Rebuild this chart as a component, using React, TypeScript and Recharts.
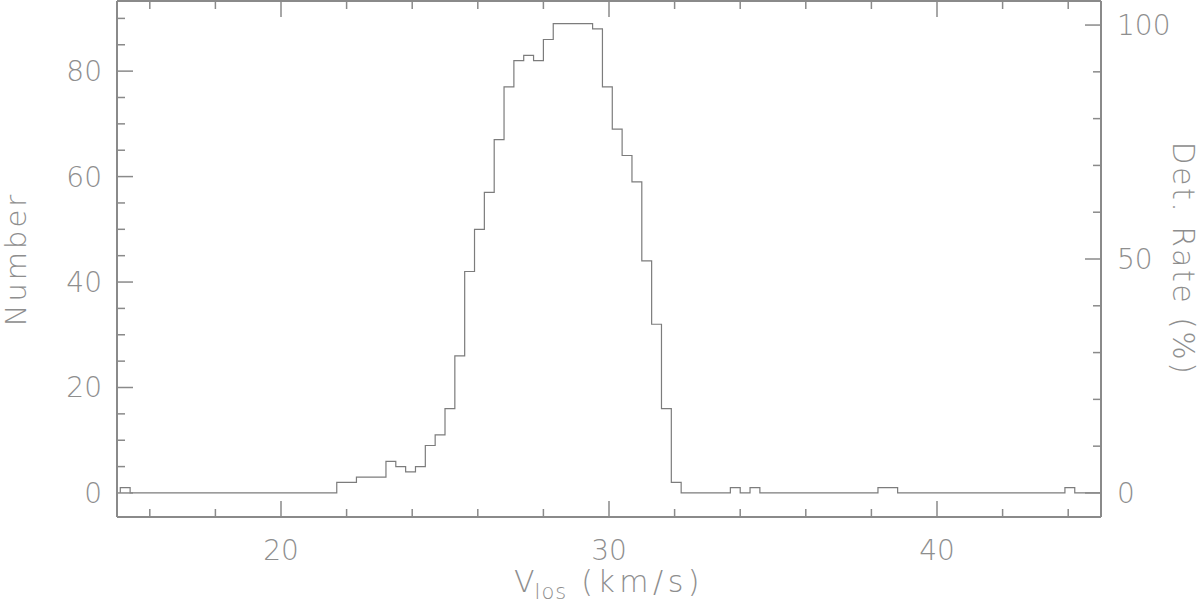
import { LineChart, Line, XAxis, YAxis } from "recharts";

// histogram of line-of-sight velocities, 0.3 km/s bins starting at 15.1
const binStart = 15.1;
const binWidth = 0.3;
const counts = [
  1, 0, 0, 0, 0, 0, 0, 0, 0, 0,
  0, 0, 0, 0, 0, 0, 0, 0, 0, 0,
  0, 0, 2, 2, 3, 3, 3, 6, 5, 4,
  5, 9, 11, 16, 26, 42, 50, 57, 67, 77,
  82, 83, 82, 86, 89, 89, 89, 89, 88, 77,
  69, 64, 59, 44, 32, 16, 2, 0, 0, 0,
  0, 0, 1, 0, 1, 0, 0, 0, 0, 0,
  0, 0, 0, 0, 0, 0, 0, 1, 1, 0,
  0, 0, 0, 0, 0, 0, 0, 0, 0, 0,
  0, 0, 0, 0, 0, 0, 1, 0, 0, 0,
];

const xTicks = [16, 18, 20, 22, 24, 26, 28, 30, 32, 34, 36, 38, 40, 42, 44];
const leftTicks = [0, 5, 10, 15, 20, 25, 30, 35, 40, 45, 50, 55, 60, 65, 70, 75, 80, 85, 90];
const rightTicks = [0, 10, 20, 30, 40, 50, 60, 70, 80, 90, 100];

const rows = [
  { v: binStart, n: 0 },
  ...counts.map((n, i) => ({ v: +(binStart + i * binWidth).toFixed(2), n })),
  { v: 45.1, n: 0 },
];

const AXIS = "#8a8a8a";
const TEXT = "#8e8e8e";
const HIST = "#7c7c7c";
const FONT = "'DejaVu Sans ExtraLight', 'DejaVu Sans', sans-serif";

const BottomTick = (p: any) => {
  const major = p.payload.value % 10 === 0;
  return (
    <g>
      <line x1={p.x} x2={p.x} y1={p.y} y2={p.y - (major ? 16 : 8)} stroke={AXIS} strokeWidth={1.5} />
      {major && (
        <text x={p.x} y={p.y + 43} textAnchor="middle" fill={TEXT} fontSize={28} fontFamily={FONT} fontWeight={200}>
          {p.payload.value}
        </text>
      )}
    </g>
  );
};

const TopTick = (p: any) => {
  const major = p.payload.value % 10 === 0;
  return <line x1={p.x} x2={p.x} y1={p.y} y2={p.y + (major ? 16 : 8)} stroke={AXIS} strokeWidth={1.5} />;
};

const LeftTick = (p: any) => {
  const major = p.payload.value % 20 === 0;
  return (
    <g>
      <line x1={p.x} x2={p.x + (major ? 16 : 8)} y1={p.y} y2={p.y} stroke={AXIS} strokeWidth={1.5} />
      {major && (
        <text x={p.x - 15} y={p.y + 10} textAnchor="end" fill={TEXT} fontSize={28} fontFamily={FONT} fontWeight={200}>
          {p.payload.value}
        </text>
      )}
    </g>
  );
};

const RightTick = (p: any) => {
  const major = p.payload.value % 50 === 0;
  return (
    <g>
      <line x1={p.x} x2={p.x - (major ? 16 : 8)} y1={p.y} y2={p.y} stroke={AXIS} strokeWidth={1.5} />
      {major && (
        <text x={p.x + 16} y={p.y + 10} textAnchor="start" fill={TEXT} fontSize={28} fontFamily={FONT} fontWeight={200}>
          {p.payload.value}
        </text>
      )}
    </g>
  );
};

const NumberLabel = ({ viewBox }: any) => {
  const cx = viewBox.x + 26;
  const cy = viewBox.y + viewBox.height / 2;
  return (
    <text x={cx} y={cy} transform={`rotate(-90 ${cx} ${cy})`} textAnchor="middle"
      fill={TEXT} fontSize={29} fontFamily={FONT} fontWeight={200} letterSpacing={3}>
      Number
    </text>
  );
};

const RateLabel = ({ viewBox }: any) => {
  const cx = viewBox.x + 72;
  const cy = viewBox.y + viewBox.height / 2;
  return (
    <text x={cx} y={cy} transform={`rotate(90 ${cx} ${cy})`} textAnchor="middle"
      fill={TEXT} fontSize={30} fontFamily={FONT} fontWeight={200} letterSpacing={2.5}>
      Det. Rate (%)
    </text>
  );
};

const VelLabel = ({ viewBox }: any) => {
  const cx = viewBox.x + viewBox.width / 2;
  return (
    <text x={cx} y={viewBox.y + 75} textAnchor="middle" fill={TEXT} fontSize={30} fontFamily={FONT} fontWeight={200}>
      V
      <tspan fontSize={21} dy={7} letterSpacing={1}>los</tspan>
      <tspan dy={-7} letterSpacing={4.5}> (km/s)</tspan>
    </text>
  );
};

export default function App() {
  return (
    <div style={{ width: 1200, height: 604 }}>
      <style>{`body{margin:0}`}</style>
      <LineChart width={1200} height={604} data={rows} margin={{ top: 0, right: 0, bottom: 0, left: 0 }}>
        <XAxis
          xAxisId="b"
          type="number"
          dataKey="v"
          domain={[15, 45]}
          allowDataOverflow
          ticks={xTicks}
          interval={0}
          height={87}
          tickSize={0}
          tickMargin={0}
          tickLine={false}
          axisLine={{ stroke: AXIS, strokeWidth: 2 }}
          tick={BottomTick}
          label={<VelLabel />}
        />
        <XAxis
          xAxisId="t"
          orientation="top"
          type="number"
          dataKey="v"
          domain={[15, 45]}
          allowDataOverflow
          ticks={xTicks}
          interval={0}
          height={1}
          tickSize={0}
          tickMargin={0}
          tickLine={false}
          axisLine={{ stroke: AXIS, strokeWidth: 2 }}
          tick={TopTick}
        />
        <YAxis
          yAxisId="l"
          type="number"
          domain={[-4.56, 93.3]}
          allowDataOverflow
          ticks={leftTicks}
          interval={0}
          width={117}
          tickSize={0}
          tickMargin={0}
          tickLine={false}
          axisLine={{ stroke: AXIS, strokeWidth: 2 }}
          tick={LeftTick}
          label={<NumberLabel />}
        />
        <YAxis
          yAxisId="r"
          orientation="right"
          type="number"
          domain={[-5.14, 105.14]}
          allowDataOverflow
          ticks={rightTicks}
          interval={0}
          width={99}
          tickSize={0}
          tickMargin={0}
          tickLine={false}
          axisLine={{ stroke: AXIS, strokeWidth: 2 }}
          tick={RightTick}
          label={<RateLabel />}
        />
        <Line
          xAxisId="b"
          yAxisId="l"
          type="stepAfter"
          dataKey="n"
          stroke={HIST}
          strokeWidth={1.2}
          dot={false}
          activeDot={false}
          isAnimationActive={false}
        />
        <Line
          xAxisId="t"
          yAxisId="r"
          type="stepAfter"
          dataKey="n"
          stroke="none"
          strokeOpacity={0}
          dot={false}
          activeDot={false}
          legendType="none"
          isAnimationActive={false}
        />
      </LineChart>
    </div>
  );
}
